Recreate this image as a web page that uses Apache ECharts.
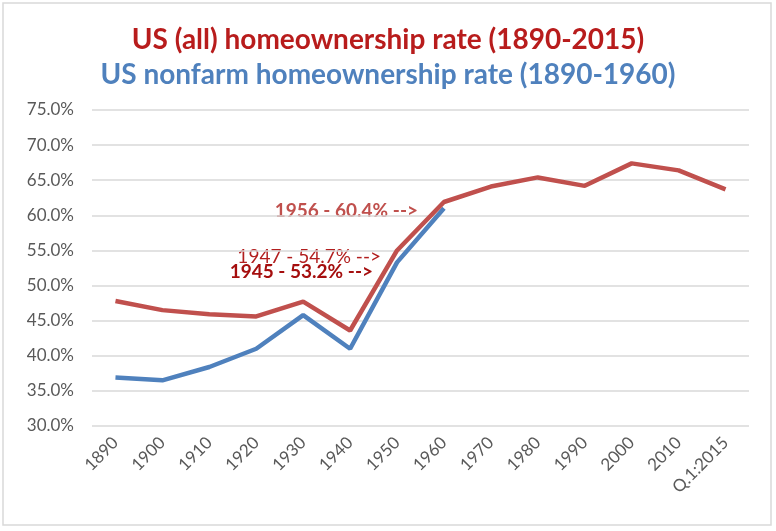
<!DOCTYPE html>
<html>
<head>
<meta charset="utf-8">
<script src="https://cdn.jsdelivr.net/npm/echarts@6/dist/echarts.min.js"></script>
<style>
  html, body { margin: 0; padding: 0; background: #fff; }
  #main { width: 776px; height: 531px; }
</style>
</head>
<body>
<div id="main"></div>
<script>
// data
var years = ['1890', '1900', '1910', '1920', '1930', '1940', '1950', '1960',
             '1970', '1980', '1990', '2000', '2010', 'Q.1:2015'];
var allRate = [47.8, 46.5, 45.9, 45.6, 47.7, 43.6, 55.0, 61.9, 64.1, 65.4, 64.2, 67.4, 66.4, 63.7];
var nonfarmRate = [36.9, 36.5, 38.4, 41.0, 45.8, 41.0, 53.3, 61.0];
var notes = ['1956 - 60.4% -->', '1947 - 54.7% -->', '1945 - 53.2% -->'];

var myChart = echarts.init(document.getElementById('main'));

var option = {
    backgroundColor: '#fff',
    animation: false,
    textStyle: { fontFamily: 'Lato' },
    title: [{
        text: 'US (all) homeownership rate (1890-2015)',
        left: 'center',
        top: 21,
        textStyle: { color: '#b81c1c', fontSize: 28, fontWeight: 'bold', fontFamily: 'Lato' }
    }, {
        text: 'US nonfarm homeownership rate (1890-1960)',
        left: 'center',
        top: 56,
        textStyle: { color: '#4f81bd', fontSize: 28, fontWeight: 'bold', fontFamily: 'Lato' }
    }],
    grid: { left: 92, right: 27, top: 110, bottom: 105 },
    xAxis: {
        type: 'category',
        data: years,
        boundaryGap: true,
        axisLine: { show: false },
        axisTick: { show: false },
        axisLabel: { rotate: 45, color: '#595959', fontSize: 17, margin: 14 }
    },
    yAxis: {
        type: 'value',
        min: 30,
        max: 75,
        interval: 5,
        axisLine: { show: false },
        axisTick: { show: false },
        axisLabel: {
            color: '#595959', fontSize: 17, margin: 18,
            formatter: function(v) { return v.toFixed(1) + '%'; }
        },
        splitLine: { lineStyle: { color: '#d9d9d9', width: 1.5 } }
    },
    series: [{
        name: 'nonfarm',
        type: 'line',
        data: nonfarmRate,
        symbol: 'none',
        lineStyle: { color: '#4f81bd', width: 4.5 },
        z: 2
    }, {
        name: 'all',
        type: 'line',
        data: allRate,
        symbol: 'none',
        lineStyle: { color: '#c0504d', width: 4.5 },
        z: 3
    }],
    graphic: [{
        type: 'rect',
        shape: { x: 3, y: 3, width: 768, height: 522 },
        style: { fill: 'none', stroke: '#d9d9d9', lineWidth: 1.5 },
        silent: true
    }, {
        type: 'text',
        right: 776 - 418, top: 201,
        style: { text: notes[0], fill: '#c0504d', font: 'bold 19px Lato', textAlign: 'right' }
    }, {
        type: 'text',
        right: 776 - 381, top: 247,
        style: { text: notes[1], fill: '#b21f1f', font: '19px Lato', textAlign: 'right' }
    }, {
        type: 'text',
        right: 776 - 373, top: 262,
        style: { text: notes[2], fill: '#a50e0e', font: 'bold 19px Lato', textAlign: 'right' }
    }]
};

myChart.setOption(option);
</script>
</body>
</html>
